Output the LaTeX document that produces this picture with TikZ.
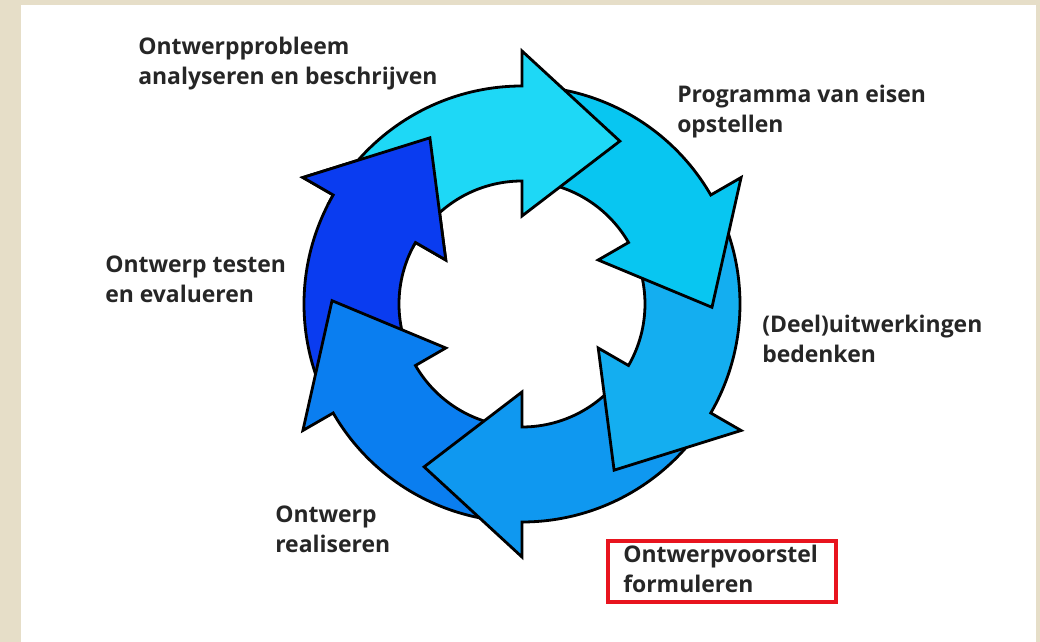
\documentclass[tikz,border=0pt]{standalone}
\usepackage{fontspec}
\setmainfont{Open Sans}
\usetikzlibrary{positioning}
\definecolor{achter}{HTML}{E6DEC8}
\definecolor{kleurA}{HTML}{1ED8F6}
\definecolor{kleurB}{HTML}{08C6F1}
\definecolor{kleurC}{HTML}{14AEF0}
\definecolor{kleurD}{HTML}{0F98F0}
\definecolor{kleurE}{HTML}{0A7EF0}
\definecolor{kleurF}{HTML}{0A3CF0}
\definecolor{kader}{HTML}{E8141E}

\begin{document}
\begin{tikzpicture}[x=0.75pt,y=0.75pt,font=\fontsize{17.2}{22.5}\selectfont\bfseries,
		pijl/.style={draw=black,line width=2.1pt},
		lbl/.style={anchor=base west,align=left,text=black!85,inner sep=0pt}]
%		\draw [step=50,thin,dotted] (-500,-330) grid (500,300);
		
		\fill [achter] (-522,-338) rectangle (518,304);
		\fill [white] (-501,-338) rectangle (514,299);
		\useasboundingbox (-522,-338) rectangle (518,304);
		
		\filldraw [pijl,fill=kleurF] (210:218) arc[start angle=210,end angle=150,radius=218] -- (150:253) -- (119:190) -- (150:88) -- (150:123) arc[start angle=150,end angle=210,radius=123];
		\filldraw [pijl,fill=kleurE] (-90:218) arc[start angle=-90,end angle=-150,radius=218] -- (-150:253) -- (-181:190) -- (-150:88) -- (-150:123) arc[start angle=-150,end angle=-90,radius=123];
		\filldraw [pijl,fill=kleurD] (-30:218) arc[start angle=-30,end angle=-90,radius=218] -- (-90:253) -- (-121:190) -- (-90:88) -- (-90:123) arc[start angle=-90,end angle=-30,radius=123];
		\filldraw [pijl,fill=kleurC] (30:218) arc[start angle=30,end angle=-30,radius=218] -- (-30:253) -- (-61:190) -- (-30:88) -- (-30:123) arc[start angle=-30,end angle=30,radius=123];
		\filldraw [pijl,fill=kleurB] (90:218) arc[start angle=90,end angle=30,radius=218] -- (30:253) -- (-1:190) -- (30:88) -- (30:123) arc[start angle=30,end angle=90,radius=123];
		\filldraw [pijl,fill=kleurA] (150:218) arc[start angle=150,end angle=90,radius=218] -- (90:253) -- (59:190) -- (90:88) -- (90:123) arc[start angle=90,end angle=150,radius=123];
		% kop van de donkere pijl nog eens, over de staart van de bovenste
		\filldraw [pijl,fill=kleurF] (153:218) arc[start angle=153,end angle=150,radius=218] -- (150:253) -- (119:190) -- (150:88) -- (150:123) arc[start angle=150,end angle=153,radius=123];
		
		\node [lbl] (probleem) at (-384,219) {Ontwerpprobleem\\analyseren en beschrijven};
		\node [lbl] (eisen) at (155,171) {Programma van eisen\\opstellen};
		\node [lbl] (testen) at (-417,1) {Ontwerp testen\\en evalueren};
		\node [lbl] (deel) at (240,-59) {(Deel)uitwerkingen\\bedenken};
		\node [lbl] (realiseren) at (-247,-249) {Ontwerp\\realiseren};
		\node [lbl] (voorstel) at (101,-289) {Ontwerpvoorstel\\formuleren};
		
		\draw [kader, line width=2.6pt] (86,-237) rectangle (314,-298);
		\end{tikzpicture}
\end{document}
